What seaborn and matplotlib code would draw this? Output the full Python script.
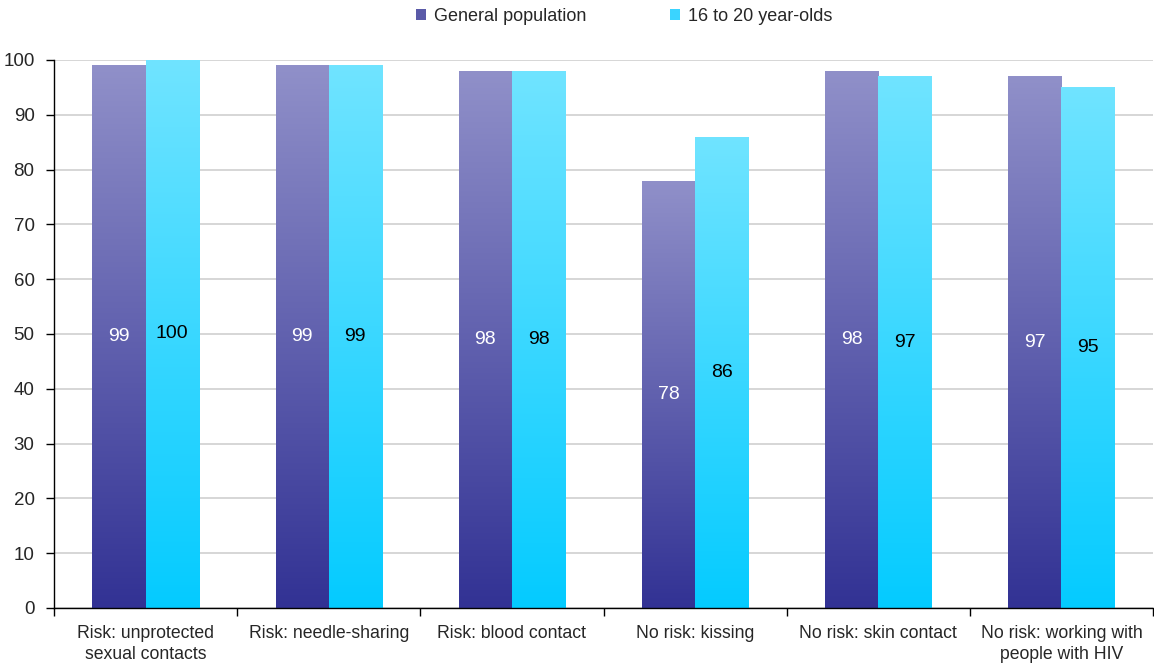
import numpy as np
import pandas as pd
import matplotlib
matplotlib.use("Agg")
import matplotlib.pyplot as plt
from matplotlib.colors import LinearSegmentedColormap
from matplotlib.patches import Patch
import seaborn as sns

categories = [
    "Risk: unprotected\nsexual contacts",
    "Risk: needle-sharing",
    "Risk: blood contact",
    "No risk: kissing",
    "No risk: skin contact",
    "No risk: working with\npeople with HIV",
]
general_population = [99, 99, 98, 78, 98, 97]
young_adults = [100, 99, 98, 86, 97, 95]
series_names = ["General population", "16 to 20 year-olds"]
y_ticks = [0, 10, 20, 30, 40, 50, 60, 70, 80, 90, 100]

df = pd.DataFrame({
    "category": categories * 2,
    "value": general_population + young_adults,
    "series": [series_names[0]] * len(categories) + [series_names[1]] * len(categories),
})

sns.set_style("ticks")
plt.rcParams["font.family"] = ["Liberation Sans", "DejaVu Sans"]

fig = plt.figure(figsize=(11.54, 6.63), dpi=100)
ax = fig.add_axes([54 / 1154, 1 - 608 / 663, 1099 / 1154, 548 / 663])

sns.barplot(data=df, x="category", y="value", hue="series", order=categories,
            hue_order=series_names, width=0.58, ax=ax, legend=False,
            palette=["#5a5aa8", "#3ad4ff"], errorbar=None, saturation=1)

# vertical gradients (bottom colour, top colour) per series
gradients = [
    LinearSegmentedColormap.from_list("gp", ["#323294", "#9090c9"]),
    LinearSegmentedColormap.from_list("yo", ["#04cbff", "#70e4ff"]),
]
label_colors = ["white", "black"]
grad = np.linspace(0, 1, 256).reshape(-1, 1)

n = len(categories)
for i, bar in enumerate(ax.patches[: 2 * n]):
    s = i // n
    x0, y0 = bar.get_x(), bar.get_y()
    w, h = bar.get_width(), bar.get_height()
    bar.set_facecolor("none")
    bar.set_edgecolor("none")
    img = ax.imshow(grad, cmap=gradients[s], origin="lower", aspect="auto",
                    extent=[x0, x0 + w, y0, y0 + h], zorder=2)
    img.set_clip_path(bar)
    ax.text(x0 + w / 2, h / 2, f"{h:.0f}", ha="center", va="center",
            fontsize=14, color=label_colors[s], zorder=3)

ax.set_xlim(-0.5, n - 0.5)
ax.set_ylim(0, 100)
ax.set_yticks(y_ticks)
ax.set_yticklabels([str(t) for t in y_ticks], fontsize=13.5)
ax.yaxis.grid(True, color="#d0d0d0", linewidth=1.2, zorder=0)
ax.set_axisbelow(True)

# category labels centered, ticks on category boundaries
ax.set_xticks(np.arange(n))
ax.set_xticklabels(categories, fontsize=12.7, linespacing=1.32)
ax.tick_params(axis="x", which="major", length=0, pad=12)
ax.set_xticks(np.arange(-0.5, n, 1), minor=True)
ax.tick_params(axis="x", which="minor", bottom=True, length=6, width=1,
               color="black", direction="out")
ax.tick_params(axis="y", left=True, length=6, width=1, color="black",
               direction="out", pad=8)
ax.set_xlabel("")
ax.set_ylabel("")

for side in ["top", "right"]:
    ax.spines[side].set_visible(False)
for side in ["left", "bottom"]:
    ax.spines[side].set_color("black")
    ax.spines[side].set_linewidth(1)

handles = [Patch(facecolor="#5a5aa8", edgecolor="none"),
           Patch(facecolor="#3ad4ff", edgecolor="none")]
fig.legend(handles, series_names, loc="upper center", bbox_to_anchor=(0.541, 1.012),
           ncol=2, frameon=False, fontsize=13, handlelength=0.55, handleheight=0.55,
           handletextpad=0.45, columnspacing=4.6)

fig.savefig("out.png", dpi=100)
